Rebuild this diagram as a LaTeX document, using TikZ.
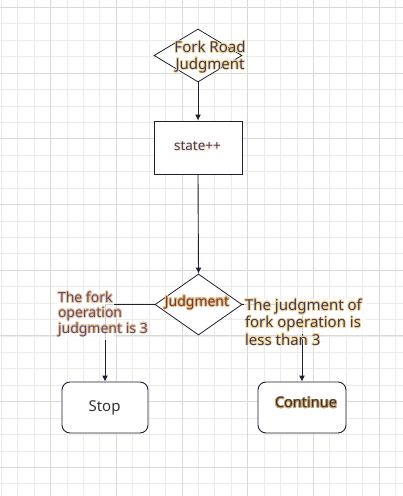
\documentclass[tikz,border=0pt]{standalone}
\usepackage{fontspec}
\setmainfont{Noto Sans}
\usepackage[copies]{contour}
\contourlength{0.8pt}
\usetikzlibrary{shapes.geometric}
\usetikzlibrary{arrows.meta}

\newcommand{\glowtext}[2]{\contour{#1}{#2}}

\begin{document}
\begin{tikzpicture}[x=1pt,y=-1pt,
  gridminor/.style={draw=gridMinor,line width=0.7pt},
  gridmajor/.style={draw=gridMajor,line width=0.9pt},
  decision/.style={diamond,draw=lineColor,line width=0.8pt,fill=white,inner sep=0pt},
  process/.style={rectangle,draw=lineColor,line width=0.9pt,fill=white,inner sep=0pt,minimum width=88pt,minimum height=53pt},
  terminal/.style={process,rounded corners=8pt,minimum height=51pt},
  flow/.style={draw=lineColor,line width=0.9pt,-{Latex[length=6pt,width=6pt]}},
  labelback/.style={fill=white,fill opacity=0.8},
  lbl/.style={inner sep=0pt,outer sep=0pt}]
\definecolor[named]{gridMinor}{rgb}{0.92,0.92,0.92}
\definecolor[named]{gridMajor}{rgb}{0.85,0.85,0.85}
\definecolor[named]{lineColor}{rgb}{0.12,0.12,0.18}
\definecolor[named]{navyText}{rgb}{0.24,0.22,0.42}
\definecolor[named]{yellowGlow}{rgb}{0.97,0.85,0.56}
\definecolor[named]{paleGlow}{rgb}{0.99,0.91,0.80}
\definecolor[named]{brownText}{rgb}{0.42,0.25,0.17}
\definecolor[named]{orangeGlow}{rgb}{0.92,0.72,0.52}
\definecolor[named]{plumText}{rgb}{0.36,0.29,0.47}
\definecolor[named]{peachGlow}{rgb}{0.93,0.79,0.62}
\definecolor[named]{darkText}{rgb}{0.20,0.20,0.20}
\definecolor[named]{tanGlow}{rgb}{0.80,0.62,0.42}
\path[use as bounding box,fill=white] (0,0) rectangle (403,496);

% grid
\foreach \i in {0,...,24}
  \draw[gridminor] ({1.2+16.43*\i},0) -- ++(0,496);
\foreach \j in {0,...,29}
  \draw[gridminor] (0,{7.3+16.43*\j}) -- ++(403,0);
\foreach \k in {0,...,5}
  \draw[gridmajor] ({50.7+65.72*\k},0) -- ++(0,496);
\foreach \k in {0,...,7}
  \draw[gridmajor] (0,{7.3+65.72*\k}) -- ++(403,0);

% shapes
\node (fork) [decision,minimum width=88pt,minimum height=53pt] at (198,55.5) {};
\node (state) [process] at (198,147.5) {};
\node (judge) [decision,minimum width=87pt,minimum height=61pt] at (198.5,304.5) {};
\node (stop) [terminal,minimum width=86pt] at (105,407.5) {};
\node (cont) [terminal] at (302,407.5) {};

% connectors
\draw[flow] (fork.south) -- (state.north);
\draw[flow] (state.south) -- (judge.north);
\draw[flow] (judge.west) -| (stop.north);
\draw[flow] (judge.east) -| (cont.north);

% label backs
\path[labelback] (57,292) rectangle (113.7,340);
\path[labelback] (244,299) rectangle (366,334);

% texts
\node (forktext) [lbl,text=navyText,align=center,font=\fontsize{15}{16.5}\selectfont] at (210,57.5)
  {\glowtext{yellowGlow}{Fork Road}\\\glowtext{yellowGlow}{Judgment}};
\node (statetext) [lbl,text=navyText,font=\fontsize{13.5}{15}\selectfont] at (197.5,147)
  {\glowtext{paleGlow}{state++}};
\node (judgetext) [lbl,text=brownText,font=\fontsize{14}{16}\selectfont\bfseries] at (197,303)
  {\glowtext{orangeGlow}{Judgment}};
\node (istext) [lbl,text=plumText,align=left,anchor=north west,font=\fontsize{14}{14.6}\selectfont] at (58,292)
  {\glowtext{peachGlow}{The fork}\\\glowtext{peachGlow}{operation}\\\glowtext{peachGlow}{judgment is 3}};
\node (lesstext) [lbl,text=navyText,align=left,anchor=north west,font=\fontsize{15}{17.3}\selectfont] at (245,299)
  {\glowtext{yellowGlow}{The judgment of}\\\glowtext{yellowGlow}{fork operation is}\\\glowtext{yellowGlow}{less than 3}};
\node (stoptext) [lbl,text=darkText,font=\fontsize{15}{17}\selectfont] at (104.5,408) {Stop};
\node (conttext) [lbl,text=darkText,font=\fontsize{14.5}{17}\selectfont\bfseries] at (306,403)
  {\glowtext{tanGlow}{Continue}};
\end{tikzpicture}
\end{document}
